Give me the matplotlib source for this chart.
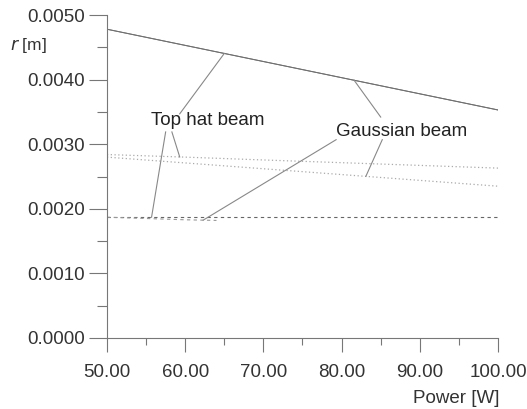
import matplotlib
matplotlib.use("Agg")
import matplotlib.pyplot as plt
import numpy as np
from matplotlib.ticker import FormatStrFormatter, MultipleLocator

plt.rcParams["font.family"] = ["Liberation Sans", "DejaVu Sans"]

power = [50, 60, 70, 80, 90, 100]
r_solid_top_hat = [0.00478, 0.00453, 0.00428, 0.00403, 0.00378, 0.00353]
r_solid_gauss = [0.00478, 0.00453, 0.00428, 0.00403, 0.00378, 0.00353]
r_dot_top_hat = [0.00284, 0.00280, 0.002756, 0.002714, 0.002672, 0.00263]
r_dot_gauss = [0.00280, 0.00271, 0.00262, 0.00253, 0.00244, 0.00235]
r_dash_top_hat = [0.00187, 0.00187, 0.00187, 0.00187, 0.00187, 0.00187]
power_dash_gauss = [50, 55, 60, 64]
r_dash_gauss = [0.00187, 0.00185, 0.00183, 0.00182]

fig = plt.figure(figsize=(5.27, 4.09), dpi=100)
ax = fig.add_axes([0.203, 0.1736, 0.742, 0.7897])

ax.plot(power, r_solid_top_hat, color="#707070", lw=0.7)
ax.plot(power, r_solid_gauss, color="#707070", lw=0.7)
ax.plot(power, r_dot_top_hat, color="#aaaaaa", lw=0.9, ls=(0, (1, 2)))
ax.plot(power, r_dot_gauss, color="#aaaaaa", lw=0.9, ls=(0, (1, 2)))
ax.plot(power, r_dash_top_hat, color="#666666", lw=0.8, ls=(0, (3, 3)))
ax.plot(power_dash_gauss, r_dash_gauss, color="#999999", lw=0.8, ls=(0, (3, 3)))

ax.set_xlim(50, 100)
ax.set_ylim(0, 0.005)
ax.xaxis.set_major_locator(MultipleLocator(10))
ax.xaxis.set_minor_locator(MultipleLocator(5))
ax.yaxis.set_major_locator(MultipleLocator(0.001))
ax.yaxis.set_minor_locator(MultipleLocator(0.0005))
ax.xaxis.set_major_formatter(FormatStrFormatter("%.2f"))
ax.yaxis.set_major_formatter(FormatStrFormatter("%.4f"))

for s in ["top", "right"]:
    ax.spines[s].set_visible(False)
for s in ["left", "bottom"]:
    ax.spines[s].set_color("#777777")
    ax.spines[s].set_linewidth(0.8)

ax.tick_params(axis="both", which="both", color="#777777", width=0.8,
               labelcolor="#333333", labelsize=13.5)
ax.tick_params(axis="y", which="major", length=13, pad=3)
ax.tick_params(axis="y", which="minor", length=7)
ax.tick_params(axis="x", which="major", length=10, pad=8.5)
ax.tick_params(axis="x", which="minor", length=5)

ax.text(-0.248, 0.907, "$\\mathit{r}$ [m]", transform=ax.transAxes,
        fontsize=12.5, color="#333333", ha="left", va="center")
ax.text(1.003, -0.186, "Power [W]", transform=ax.transAxes,
        fontsize=13.5, color="#333333", ha="right", va="center")

ax.text(62.9, 0.00337, "Top hat beam", fontsize=13.5, color="#222222",
        ha="center", va="center")
ax.text(87.7, 0.00319, "Gaussian beam", fontsize=13.5, color="#222222",
        ha="center", va="center")

lc = "#888888"


def leader(x0, y0, x1, xs, ys):
    ax.plot([x0, x1], [y0, np.interp(x1, xs, ys)], color=lc, lw=0.8)


leader(59.3, 0.00347, 65.0, power, r_solid_top_hat)
leader(57.5, 0.00319, 55.7, power, r_dash_top_hat)
leader(58.3, 0.00319, 59.3, power, r_dot_top_hat)
leader(85.0, 0.00342, 81.6, power, r_solid_gauss)
leader(85.2, 0.00307, 83.1, power, r_dot_gauss)
leader(79.3, 0.00307, 62.3, power_dash_gauss, r_dash_gauss)

fig.savefig("out.png", dpi=100)
